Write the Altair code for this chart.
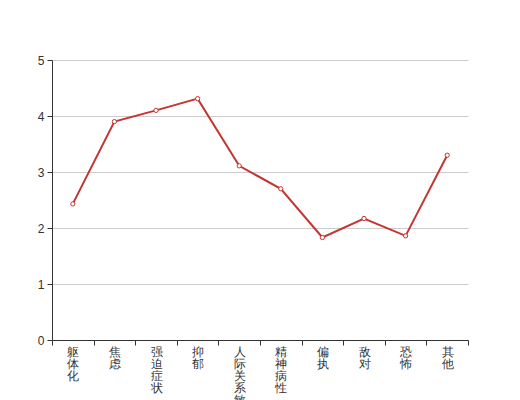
import altair as alt
import pandas as pd

categories = ["躯体化", "焦虑", "强迫症状", "抑郁", "人际关系敏感", "精神病性", "偏执", "敌对", "恐怖", "其他"]
values = [2.43, 3.90, 4.10, 4.31, 3.11, 2.70, 1.83, 2.17, 1.86, 3.30]

df = pd.DataFrame({"cat": categories, "val": values})

FONT = "sans-serif"

x = alt.X("cat:N", sort=categories, title=None,
          scale=alt.Scale(paddingInner=0, paddingOuter=0),
          axis=alt.Axis(labelAngle=0, labelExpr="split(datum.label, '')",
                        labelLineHeight=12, labelFontSize=12, labelColor="#333",
                        labelBaseline="top", labelPadding=1,
                        tickBand="extent", tickSize=5, tickColor="#333",
                        domainColor="#333", grid=False, labelFont=FONT))
y = alt.Y("val:Q", title=None,
          scale=alt.Scale(domain=[0, 5], nice=False),
          axis=alt.Axis(values=[0, 1, 2, 3, 4, 5], format="d", tickSize=5,
                        tickColor="#333", domainColor="#333", labelColor="#333",
                        labelFontSize=12, labelPadding=3, gridColor="#ccc",
                        labelFont=FONT))

line = alt.Chart(df).mark_line(color="#c23531", strokeWidth=2).encode(x=x, y=y)
pts = alt.Chart(df).mark_point(shape="circle", filled=True, fill="white",
                               stroke="#c23531", strokeWidth=1, size=18,
                               opacity=1).encode(x=x, y=y)

chart = (line + pts).properties(
    width=416, height=280,
    autosize=alt.AutoSizeParams(type="none"),
    padding={"left": 44, "top": 52, "right": 44, "bottom": 60},
).configure(font=FONT).configure_view(stroke=None)

chart.save("out.html", embed_options={"renderer": "svg", "actions": False})
